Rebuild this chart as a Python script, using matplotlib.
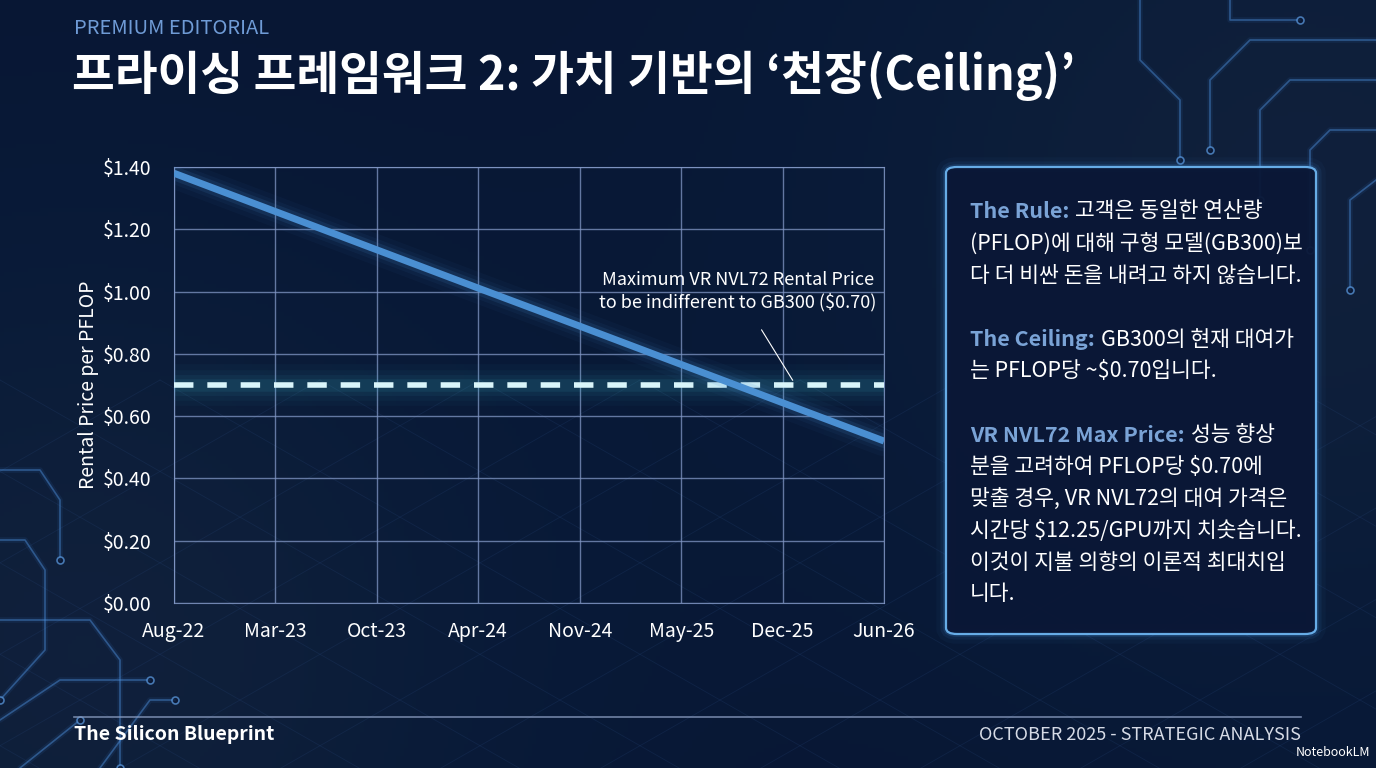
import numpy as np
import matplotlib.pyplot as plt
from matplotlib.patches import FancyBboxPatch

plt.rcParams['font.family'] = ['Noto Sans CJK KR', 'DejaVu Sans']

# ---- data ----
months = ['Aug-22', 'Mar-23', 'Oct-23', 'Apr-24', 'Nov-24', 'May-25', 'Dec-25', 'Jun-26']
price_per_pflop = [1.38, 1.257, 1.134, 1.011, 0.889, 0.766, 0.643, 0.52]
gb300_ceiling = 0.70
y_ticks = [0.0, 0.2, 0.4, 0.6, 0.8, 1.0, 1.2, 1.4]

BG = '#08142e'
GRID = '#8298c6'
LINE = '#4a8fd2'
DASH = '#d9f5fa'
LABEL_BLUE = '#7aa3d6'

W, H = 1376, 768
fig = plt.figure(figsize=(W / 100, H / 100), dpi=100)
fig.patch.set_facecolor(BG)

# background layer in pixel coords
bg = fig.add_axes([0, 0, 1, 1], zorder=-10)
bg.set_xlim(0, W)
bg.set_ylim(H, 0)
bg.axis('off')
yy, xx = np.mgrid[0:H:4, 0:W:4]
shade = 0.5 * np.exp(-((xx - 1300) ** 2 + (yy - 200) ** 2) / 2.5e5) \
    + 0.5 * np.exp(-((xx - 80) ** 2 + (yy - 650) ** 2) / 2.0e5)
bg.imshow(shade, extent=[0, W, H, 0], cmap='Blues_r', alpha=0.08, aspect='auto', vmin=0, vmax=1)

# faint lattice
for k in range(-6, 14):
    x0 = k * 160
    bg.plot([x0, x0 + 700], [380, 780], color='#2a4a80', lw=0.6, alpha=0.22)
    bg.plot([x0, x0 - 700], [380, 780], color='#2a4a80', lw=0.6, alpha=0.22)

# circuit traces, top right and bottom left
traces = [
    [(1376, 40), (1250, 40), (1210, 80), (1210, 150)],
    [(1376, 80), (1290, 80), (1260, 110), (1260, 200)],
    [(1376, 130), (1330, 130), (1310, 150), (1310, 250)],
    [(1376, 180), (1350, 200), (1350, 290)],
    [(1140, 0), (1140, 60), (1180, 100), (1180, 160)],
    [(1230, 0), (1230, 20), (1300, 20)],
    [(0, 470), (40, 470), (60, 500), (60, 560)],
    [(0, 540), (25, 540), (45, 570), (45, 650), (0, 700)],
    [(0, 620), (90, 620), (120, 660), (120, 768)],
    [(0, 720), (60, 680), (150, 680)],
    [(100, 768), (150, 700), (175, 700)],
    [(20, 768), (80, 720)],
]
for tr in traces:
    px, py = zip(*tr)
    bg.plot(px, py, color='#3b7fd0', lw=4, alpha=0.10, solid_capstyle='round')
    bg.plot(px, py, color='#4f93e0', lw=1.2, alpha=0.45, solid_capstyle='round')
    bg.plot(px[-1], py[-1], 'o', ms=5, mfc=BG, mec='#5fa0e8', mew=1.2, alpha=0.7)

# ---- header ----
def fx(x):
    return x / W


def fy(y):
    return 1 - y / H


fig.text(fx(74), fy(28), 'PREMIUM EDITORIAL', color='#6f9bd6', fontsize=14.5,
         va='center', ha='left')
fig.text(fx(72), fy(76), '프라이싱 프레임워크 2: 가치 기반의 ‘천장(Ceiling)’',
         color='white', fontsize=33.5, fontweight='black', va='center', ha='left')

# ---- chart ----
ax = fig.add_axes([fx(174), fy(603), (884 - 174) / W, (603 - 167) / H])
ax.set_facecolor('none')
x = np.arange(len(months))
ax.set_xlim(0, len(months) - 1)
ax.set_ylim(0, 1.4)

ax.set_xticks(x)
ax.set_xticklabels(months)
ax.set_yticks(y_ticks)
ax.set_yticklabels([f'${v:.2f}' for v in y_ticks])
ax.tick_params(length=0, colors='white', labelsize=14)
ax.tick_params(axis='x', pad=13)
ax.tick_params(axis='y', pad=16)
ax.grid(True, color=GRID, lw=1.0, alpha=0.75)
for s in ax.spines.values():
    s.set_color(GRID)
    s.set_alpha(0.85)
ax.set_ylabel('Rental Price per PFLOP', color='white', fontsize=14, labelpad=3)

# dashed ceiling with glow
for lw, a in [(30, 0.03), (22, 0.04), (15, 0.06), (9, 0.09)]:
    ax.axhline(gb300_ceiling, color='#46c6da', lw=lw, alpha=a, zorder=3)
ax.axhline(gb300_ceiling, color=DASH, lw=4, ls=(0, (3.5, 2.5)), zorder=4)

# price line with glow
for lw, a in [(22, 0.04), (15, 0.06), (10, 0.12)]:
    ax.plot(x, price_per_pflop, color=LINE, lw=lw, alpha=a, solid_capstyle='round', zorder=5)
ax.plot(x, price_per_pflop, color=LINE, lw=5, solid_capstyle='butt', zorder=6)

ax.annotate('Maximum VR NVL72 Rental Price\nto be indifferent to GB300 ($0.70)',
            xy=(6.1, 0.715), xytext=(5.56, 1.0), color='white', fontsize=13,
            ha='center', va='center', linespacing=1.25,
            arrowprops=dict(arrowstyle='-', color='white', lw=0.8,
                            shrinkA=13, shrinkB=0), zorder=7)

# ---- side panel ----
for lw, a in [(14, 0.04), (8, 0.08), (4, 0.16)]:
    fig.patches.append(FancyBboxPatch((fx(946), fy(634)), (1316 - 946) / W, (634 - 167) / H,
                                      boxstyle='round,pad=0,rounding_size=0.008',
                                      transform=fig.transFigure, fc='none',
                                      ec='#4a9be8', lw=lw, alpha=a))
fig.patches.append(FancyBboxPatch((fx(946), fy(634)), (1316 - 946) / W, (634 - 167) / H,
                                  boxstyle='round,pad=0,rounding_size=0.008',
                                  transform=fig.transFigure, fc='#0a1736',
                                  ec='#6cb4f0', lw=1.6, alpha=0.95))

panel_lines = [
    (211, 'The Rule:', '고객은 동일한 연산량'),
    (244, None, '(PFLOP)에 대해 구형 모델(GB300)보'),
    (276, None, '다 더 비싼 돈을 내려고 하지 않습니다.'),
    (340, 'The Ceiling:', 'GB300의 현재 대여가'),
    (371, None, '는 PFLOP당 ~$0.70입니다.'),
    (435, 'VR NVL72 Max Price:', '성능 향상'),
    (467, None, '분을 고려하여 PFLOP당 $0.70에'),
    (499, None, '맞출 경우, VR NVL72의 대여 가격은'),
    (531, None, '시간당 $12.25/GPU까지 치솟습니다.'),
    (563, None, '이것이 지불 의향의 이론적 최대치입'),
    (594, None, '니다.'),
]
renderer = fig.canvas.get_renderer()
for y, label, body in panel_lines:
    x0 = 970
    if label:
        t = fig.text(fx(x0), fy(y), label, color=LABEL_BLUE, fontsize=15.5,
                     fontweight='bold', va='center', ha='left')
        x0 = t.get_window_extent(renderer).x1 + 6
    fig.text(fx(x0), fy(y), body, color='white', fontsize=15.5, va='center', ha='left')

# ---- footer ----
bg.plot([74, 1301], [717, 717], color='#8a9cc0', lw=1.2, alpha=0.8)
fig.text(fx(74), fy(735), 'The Silicon Blueprint', color='white', fontsize=14,
         fontweight='bold', va='center', ha='left')
fig.text(fx(1301), fy(735), 'OCTOBER 2025 - STRATEGIC ANALYSIS', color='#d6dbe6',
         fontsize=13, va='center', ha='right')
fig.text(fx(1370), fy(752), 'NotebookLM', color='white', fontsize=9,
         va='center', ha='right')

fig.savefig('out.png', dpi=100, facecolor=BG)
